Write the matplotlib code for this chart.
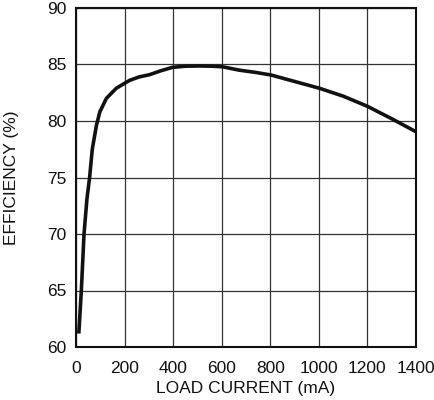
import matplotlib
matplotlib.use("Agg")
import matplotlib.pyplot as plt

# values
load_ma = [12, 22, 33, 45, 56, 67, 84, 98, 125, 166, 221, 260, 303, 350, 398, 450, 508,
           560, 603, 672, 740, 803, 900, 1002, 1100, 1200, 1300, 1400]
eff_pct = [61.35, 65.0, 70.0, 73.1, 75.0, 77.5, 79.6, 80.8, 82.0, 82.9, 83.6, 83.9, 84.1,
           84.45, 84.75, 84.85, 84.87, 84.85, 84.8, 84.5, 84.3, 84.07, 83.5, 82.9, 82.2,
           81.3, 80.2, 79.05]

x_ticks = [0, 200, 400, 600, 800, 1000, 1200, 1400]
y_ticks = [60, 65, 70, 75, 80, 85, 90]

plt.rcParams['font.family'] = ['Liberation Sans', 'DejaVu Sans']

fig = plt.figure(figsize=(4.35, 4.00), dpi=100)
ax = fig.add_axes([76 / 435, 1 - 347 / 400, 340 / 435, 339 / 400])

ax.plot(load_ma, eff_pct, color='#111111', lw=2.6, solid_joinstyle='round')

ax.set_xlim(0, 1400)
ax.set_ylim(60, 90)
ax.set_xticks(x_ticks)
ax.set_yticks(y_ticks)
ax.grid(True, color='#333333', lw=0.9)
ax.set_axisbelow(True)
ax.tick_params(length=0, labelsize=12.5, colors='#111111')
ax.tick_params(axis='x', pad=10)
ax.tick_params(axis='y', pad=7)
for s in ax.spines.values():
    s.set_linewidth(1.5)
    s.set_color('#111111')

ax.set_xlabel("LOAD CURRENT (mA)", fontsize=12.5, labelpad=4, color='#111111')
ax.set_ylabel("EFFICIENCY (%)", fontsize=12.5, labelpad=20, color='#111111')

fig.savefig("out.png", dpi=100)
